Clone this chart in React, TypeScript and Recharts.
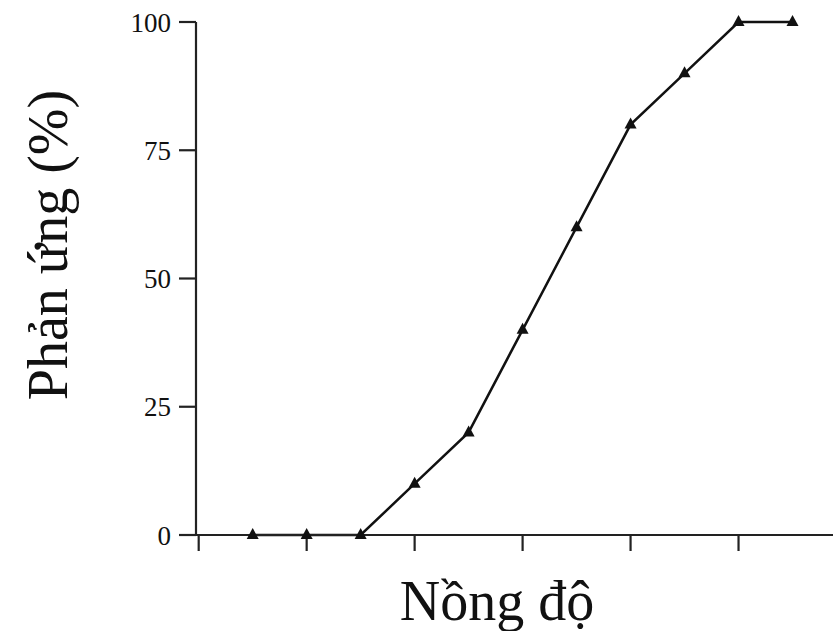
import { LineChart, Line, XAxis, YAxis } from 'recharts';

const doses = [1, 2, 3, 4, 5, 6, 7, 8, 9, 10, 11];
const responses = [0, 0, 0, 10, 20, 40, 60, 80, 90, 100, 100];
const xTicks = [0, 2, 4, 6, 8, 10];
const yTicks = [0, 25, 50, 75, 100];

const data = doses.map((d, i) => ({ dose: d, resp: responses[i] }));

const font = '"Liberation Serif", "DejaVu Serif", serif';

const Triangle = (props: any) => {
    const { cx, cy } = props;
    if (cx == null || cy == null) return null;
    return (
        <polygon
            points={`${cx},${cy - 7} ${cx - 6},${cy + 4} ${cx + 6},${cy + 4}`}
            fill="#111"
        />
    );
};

export default function App() {
    return (
        <div style={{ position: 'absolute', left: 0, top: 0, background: '#fff' }}>
            <LineChart
                width={833}
                height={631}
                data={data}
                margin={{ top: 22, right: 0, bottom: 0, left: 0 }}
            >
                <XAxis
                    dataKey="dose"
                    type="number"
                    domain={[-0.05, 11.75]}
                    ticks={xTicks}
                    tickFormatter={() => ''}
                    height={96}
                    tickSize={16}
                    stroke="#222"
                    strokeWidth={2.2}
                    label={() => (
                        <text
                            x={497}
                            y={620}
                            textAnchor="middle"
                            fontFamily={font}
                            fontSize={56}
                            fill="#111"
                        >
                            Nồng độ
                        </text>
                    )}
                />
                <YAxis
                    type="number"
                    domain={[0, 100]}
                    ticks={yTicks}
                    width={196}
                    tickSize={17}
                    tickMargin={8}
                    stroke="#222"
                    strokeWidth={2.2}
                    tick={{ fill: '#111', fontFamily: font, fontSize: 27 }}
                    label={() => (
                        <text
                            x={67}
                            y={245}
                            transform="rotate(-90 67 245)"
                            textAnchor="middle"
                            fontFamily={font}
                            fontSize={56}
                            fill="#111"
                        >
                            Phản ứng (%)
                        </text>
                    )}
                />
                <Line
                    dataKey="resp"
                    stroke="#111"
                    strokeWidth={2.5}
                    dot={<Triangle />}
                    activeDot={false}
                    isAnimationActive={false}
                />
            </LineChart>
        </div>
    );
}
